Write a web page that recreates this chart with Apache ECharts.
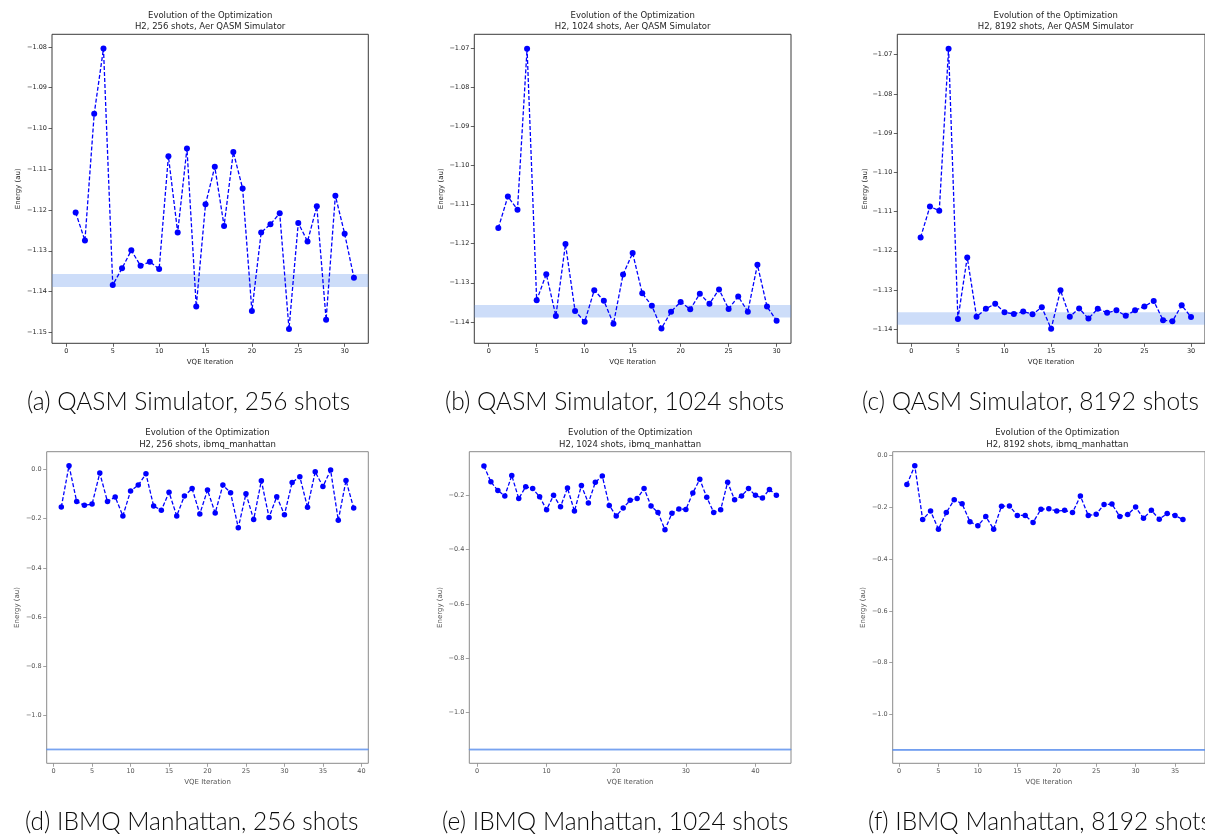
<!DOCTYPE html>
<html>
<head>
<meta charset="utf-8">
<script src="https://cdn.jsdelivr.net/npm/echarts@6/dist/echarts.min.js"></script>
<style>
html,body{margin:0;padding:0;background:#fff;}
#chart{width:1205px;height:836px;}
</style>
</head>
<body>
<div id="chart"></div>
<script>
// ---- data (VQE energy per iteration) ----
const energyA = [-1.1206,-1.1275,-1.0964,-1.0804,-1.1384,-1.1343,-1.1299,-1.1337,-1.1327,-1.1345,-1.1068,-1.1255,-1.1049,-1.1437,-1.1186,-1.1094,-1.1239,-1.1058,-1.1147,-1.1448,-1.1255,-1.1235,-1.1208,-1.1492,-1.1232,-1.1277,-1.1191,-1.1469,-1.1165,-1.1258,-1.1366];
const energyB = [-1.1160,-1.1079,-1.1113,-1.0701,-1.1345,-1.1278,-1.1385,-1.1201,-1.1372,-1.1400,-1.1319,-1.1346,-1.1405,-1.1279,-1.1224,-1.1327,-1.1359,-1.1417,-1.1374,-1.1349,-1.1368,-1.1328,-1.1354,-1.1317,-1.1367,-1.1335,-1.1374,-1.1254,-1.1361,-1.1397];
const energyC = [-1.1166,-1.1087,-1.1098,-1.0685,-1.1374,-1.1217,-1.1368,-1.1348,-1.1335,-1.1357,-1.1361,-1.1355,-1.1362,-1.1344,-1.1399,-1.1301,-1.1368,-1.1347,-1.1373,-1.1348,-1.1358,-1.1352,-1.1366,-1.1352,-1.1342,-1.1328,-1.1377,-1.1380,-1.1339,-1.1369];
const energyD = [-0.153,0.015,-0.131,-0.146,-0.141,-0.015,-0.131,-0.112,-0.189,-0.088,-0.064,-0.018,-0.149,-0.166,-0.093,-0.189,-0.108,-0.078,-0.181,-0.084,-0.177,-0.064,-0.095,-0.237,-0.099,-0.204,-0.046,-0.195,-0.111,-0.184,-0.053,-0.030,-0.154,-0.010,-0.070,-0.003,-0.207,-0.045,-0.157];
const energyE = [-0.092,-0.150,-0.182,-0.202,-0.127,-0.212,-0.168,-0.175,-0.205,-0.253,-0.200,-0.242,-0.173,-0.258,-0.164,-0.228,-0.152,-0.129,-0.237,-0.276,-0.247,-0.218,-0.212,-0.175,-0.239,-0.263,-0.327,-0.266,-0.250,-0.252,-0.191,-0.141,-0.207,-0.263,-0.253,-0.152,-0.216,-0.202,-0.175,-0.200,-0.210,-0.178,-0.200];
const energyF = [-0.111,-0.039,-0.247,-0.214,-0.284,-0.220,-0.170,-0.186,-0.255,-0.271,-0.235,-0.284,-0.195,-0.194,-0.231,-0.231,-0.258,-0.207,-0.205,-0.214,-0.211,-0.220,-0.156,-0.231,-0.226,-0.189,-0.187,-0.235,-0.227,-0.198,-0.242,-0.211,-0.246,-0.223,-0.231,-0.247];

// chemical-accuracy band around the exact ground-state energy
const bandLow = -1.1389;
const bandHigh = -1.1357;

// tick labels
const xTicksTop = [0,5,10,15,20,25,30];
const xTicksD = [0,5,10,15,20,25,30,35,40];
const xTicksE = [0,10,20,30,40];
const xTicksF = [0,5,10,15,20,25,30,35];
const yTicksA = [-1.08,-1.09,-1.10,-1.11,-1.12,-1.13,-1.14,-1.15];
const yTicksBC = [-1.07,-1.08,-1.09,-1.10,-1.11,-1.12,-1.13,-1.14];
const yTicksD = [0.0,-0.2,-0.4,-0.6,-0.8,-1.0];
const yTicksE = [-0.2,-0.4,-0.6,-0.8,-1.0];
const yTicksF = [0.0,-0.2,-0.4,-0.6,-0.8,-1.0];

const titles = [
  'Evolution of the Optimization\nH2, 256 shots, Aer QASM Simulator',
  'Evolution of the Optimization\nH2, 1024 shots, Aer QASM Simulator',
  'Evolution of the Optimization\nH2, 8192 shots, Aer QASM Simulator',
  'Evolution of the Optimization\nH2, 256 shots, ibmq_manhattan',
  'Evolution of the Optimization\nH2, 1024 shots, ibmq_manhattan',
  'Evolution of the Optimization\nH2, 8192 shots, ibmq_manhattan'
];
const captions = [
  '(a) QASM Simulator, 256 shots',
  '(b) QASM Simulator, 1024 shots',
  '(c) QASM Simulator, 8192 shots',
  '(d) IBMQ Manhattan, 256 shots',
  '(e) IBMQ Manhattan, 1024 shots',
  '(f) IBMQ Manhattan, 8192 shots'
];

// ---- layout ----
const panels = [
  {data: energyA, l: 52,    r: 368.3, t: 34.3,  b: 343.3, xmin: -1.55, xmax: 32.55, ymin: -1.1527, ymax: -1.0769, xt: xTicksTop, yt: yTicksA, dec: 2, top: true, yGap: 30, capX: 27, capY: 402},
  {data: energyB, l: 474.3, r: 791,   t: 34.3,  b: 343.3, xmin: -1.5,  xmax: 31.5,  ymin: -1.1455, ymax: -1.0664, xt: xTicksTop, yt: yTicksBC, dec: 2, top: true, yGap: 30, capX: 445, capY: 402},
  {data: energyC, l: 897.3, r: 1214,  t: 34.3,  b: 343.3, xmin: -1.5,  xmax: 31.5,  ymin: -1.1436, ymax: -1.0648, xt: xTicksTop, yt: yTicksBC, dec: 2, top: true, yGap: 29, capX: 862, capY: 402},
  {data: energyD, l: 46.7,  r: 368.3, t: 451.7, b: 763.3, xmin: -0.9,  xmax: 40.9,  ymin: -1.1935, ymax: 0.0717, xt: xTicksD, yt: yTicksD, dec: 1, top: false, yGap: 26, capX: 25, capY: 822},
  {data: energyE, l: 469.3, r: 791,   t: 451.7, b: 763.3, xmin: -1.1,  xmax: 45.1,  ymin: -1.188,  ymax: -0.039, xt: xTicksE, yt: yTicksE, dec: 1, top: false, yGap: 26, capX: 442, capY: 822},
  {data: energyF, l: 892.7, r: 1222,  t: 451.7, b: 763.3, xmin: -0.8,  xmax: 38.8,  ymin: -1.189,  ymax: 0.0155, xt: xTicksF, yt: yTicksF, dec: 1, top: false, yGap: 26, capX: 868, capY: 822}
];

function fmt(v, dec) {
  const s = Math.abs(v).toFixed(dec);
  return (v < -1e-9 ? '\u2212' : '') + s;
}

const grid = [], xAxis = [], yAxis = [], series = [], graphic = [];
panels.forEach((p, i) => {
  const frame = p.top ? '#3a3a3a' : '#8a8a8a';
  const txt = p.top ? '#262626' : '#555';
  grid.push({left: p.l, top: p.t, width: p.r - p.l, height: p.b - p.t, show: true, borderColor: frame, borderWidth: 1, backgroundColor: 'transparent', containLabel: false});
  xAxis.push({
    type: 'value', gridIndex: i, min: p.xmin, max: p.xmax, position: 'bottom',
    name: 'VQE Iteration', nameLocation: 'middle', nameGap: 15,
    nameTextStyle: {fontSize: 7, color: txt, fontFamily: 'DejaVu Sans'},
    splitLine: {show: false},
    axisLine: {show: false, onZero: false},
    axisTick: {show: true, inside: false, length: 3.5, lineStyle: {color: frame, width: 0.8}, customValues: p.xt},
    axisLabel: {fontSize: 6.5, color: txt, margin: 5, fontFamily: 'DejaVu Sans', customValues: p.xt, formatter: v => String(v)}
  });
  yAxis.push({
    type: 'value', gridIndex: i, min: p.ymin, max: p.ymax, position: 'left',
    name: 'Energy (au)', nameLocation: 'middle', nameRotate: 90, nameGap: p.yGap,
    nameTextStyle: {fontSize: 7, color: txt, fontFamily: 'DejaVu Sans'},
    splitLine: {show: false},
    axisLine: {show: false, onZero: false},
    axisTick: {show: true, inside: false, length: 3.5, lineStyle: {color: frame, width: 0.8}, customValues: p.yt},
    axisLabel: {fontSize: 6.5, color: txt, margin: 5, fontFamily: 'DejaVu Sans', customValues: p.yt, formatter: v => fmt(v, p.dec)}
  });
  series.push({
    type: 'line', xAxisIndex: i, yAxisIndex: i,
    data: p.data.map((v, k) => [k + 1, v]),
    symbol: 'circle', symbolSize: p.top ? 6 : 5.5,
    itemStyle: {color: '#0000ff'},
    lineStyle: {color: '#0000ff', width: 1.3, type: [4, 2]},
    animation: false, z: 3,
    markArea: {
      silent: true,
      itemStyle: p.top ? {color: 'rgba(100,149,237,0.32)'} : {color: 'rgba(100,149,237,0.5)', borderColor: 'rgba(100,149,237,0.85)', borderWidth: 1},
      data: [[{yAxis: bandHigh}, {yAxis: bandLow}]]
    }
  });
  graphic.push({
    type: 'text', x: (p.l + p.r) / 2, y: p.top ? 21.5 : 439,
    style: {text: titles[i], fontSize: 8.5, lineHeight: 11.5, fill: '#262626', fontFamily: 'DejaVu Sans', align: 'center', verticalAlign: 'middle'}
  });
  graphic.push({
    type: 'text', x: p.capX, y: p.capY,
    style: {text: captions[i], fontSize: 24.5, fontWeight: 300, fill: '#0a0a0a', fontFamily: 'Lato', align: 'left', verticalAlign: 'middle'}
  });
});

const chart = echarts.init(document.getElementById('chart'), null, {renderer: 'canvas'});
chart.setOption({animation: false, backgroundColor: '#fff', grid, xAxis, yAxis, series, graphic});
</script>
</body>
</html>
